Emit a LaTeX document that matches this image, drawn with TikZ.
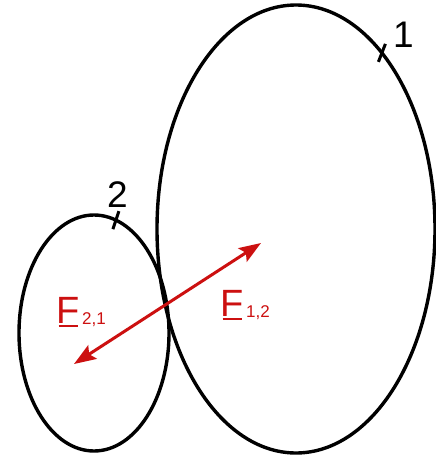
\documentclass[tikz,border=0pt]{standalone}
\usepackage{fontspec}
\setmainfont{Liberation Sans}
\usepackage{xcolor}
\usepackage{tikz}
\usetikzlibrary{shapes.geometric,arrows.meta,calc}

\definecolor{forcered}{RGB}{204,16,16}
\newcommand{\vecF}{\makebox[0pt][l]{\hspace{2.5pt}\rule[-4pt]{19pt}{2.4pt}}F}

\begin{document}
\begin{tikzpicture}[
    x=1pt, y=-1pt,
    body/.style={ellipse, draw, line width=3.4pt, inner sep=0pt, outer sep=0pt},
    tick/.style={line width=3pt},
    num/.style={inner sep=0pt, anchor=base west, font=\fontsize{37}{37}\selectfont},
    force/.style={<->, line width=3pt, forcered, >={Stealth[length=22pt, width=16pt, inset=4pt]}},
    flabel/.style={inner sep=0pt, anchor=base west, text=forcered, font=\fontsize{38}{38}\selectfont}
]
    \useasboundingbox (0,0) rectangle (436,455);

    % Bodies
    \node[body, minimum width=278pt, minimum height=448pt] (body1) at (296,229) {};
    \node[body, minimum width=150pt, minimum height=236pt] (body2) at (94,333) {};

    % Body marks
    \draw[tick] ($(body1.64.6)+(3.5,-9)$) -- ($(body1.64.6)+(-3.5,9)$);
    \draw[tick] ($(body2.79.9)+(3,-9)$) -- ($(body2.79.9)+(-3,9)$);
    \node[num] (n1) at (393,47) {1};
    \node[num] (n2) at (107,207) {2};

    % Forces
    \coordinate (tip12) at (261,243);
    \coordinate (tip21) at (74,364);
    \draw[force] (tip21) -- (tip12);

    \node[flabel] (f12) at (220,316) {\vecF\raisebox{-1pt}{\fontsize{17}{17}\selectfont\,1,2}};
    \node[flabel] (f21) at (56,323) {\vecF\raisebox{-1pt}{\fontsize{17}{17}\selectfont\,2,1}};
\end{tikzpicture}
\end{document}
